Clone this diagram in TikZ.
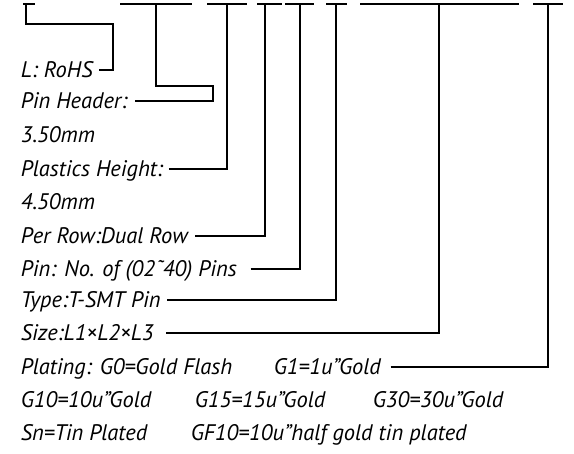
\documentclass[tikz,border=0pt]{standalone}
\usepackage{fontspec}
\setmainfont{PT Sans}
\usetikzlibrary{positioning, calc}

\begin{document}
\begin{tikzpicture}[x=1pt, y=-1pt, line width=1.6pt]
    \tikzstyle{label} = [anchor=west, inner sep=0pt, text height=15pt, text depth=0pt, font=\itshape\fontsize{22.5}{26}\selectfont]
    \tikzstyle{lead} = [line width=1.6pt]
    \useasboundingbox (0,0) rectangle (574,454);

    % code bars along the top
    \draw[lead] (23,4) -- (35,4);
    \draw[lead] (120,4) -- (192,4);
    \draw[lead] (207,4) -- (247,4);
    \draw[lead] (257,4) -- (282,4);
    \draw[lead] (285,4) -- (314,4);
    \draw[lead] (326,4) -- (347,4);
    \draw[lead] (360,4) -- (519,4);
    \draw[lead] (533,4) -- (563,4);
    \coordinate (rohsbar) at (26,4);
    \coordinate (headerbar) at (156,4);
    \coordinate (heightbar) at (227,4);
    \coordinate (rowbar) at (265,4);
    \coordinate (pinsbar) at (300,4);
    \coordinate (typebar) at (336,4);
    \coordinate (sizebar) at (439,4);
    \coordinate (platingbar) at (548,4);

    \node[label] (rohs) at (20,70) {L: RoHS};
    \node[label] (header) at (20,101) {Pin Header:};
    \node[label] (pitch) at (20,135) {3.50mm};
    \node[label] (height) at (20,169) {Plastics Height:};
    \node[label] (heightval) at (20,202) {4.50mm};
    \node[label] (row) at (20,236) {Per Row:Dual Row};
    \node[label] (pins) at (20,269) {Pin: No. of (02˜40) Pins};
    \node[label] (type) at (20,300) {Type:T-SMT Pin};
    \node[label] (size) at (20,333) {Size:L1×L2×L3};
    \node[label] (plating) at (20,367) {Plating: G0=Gold Flash};
    \node[label] (gone) at (273,367) {G1=1u"Gold};
    \node[label] (gten) at (20,400) {G10=10u"Gold};
    \node[label] (gfifteen) at (194,400) {G15=15u"Gold};
    \node[label] (gthirty) at (372,400) {G30=30u"Gold};
    \node[label] (tin) at (20,433) {Sn=Tin Plated};
    \node[label] (half) at (190,433) {GF10=10u"half gold tin plated};

    \draw[lead] ($(rohs.east)+(6,0)$) -| (113,24) -| (rohsbar);
    \draw[lead] ($(header.east)+(7,0)$) -| (213,86) -| (headerbar);
    \draw[lead] ($(height.east)+(5,0)$) -| (heightbar);
    \draw[lead] ($(row.east)+(7,0)$) -| (rowbar);
    \draw[lead] ($(pins.east)+(13,0)$) -| (pinsbar);
    \draw[lead] ($(type.east)+(6,0)$) -| (typebar);
    \draw[lead] ($(size.east)+(12,0)$) -| (sizebar);
    \draw[lead] ($(gone.east)+(9,0)$) -| (platingbar);
\end{tikzpicture}
\end{document}
